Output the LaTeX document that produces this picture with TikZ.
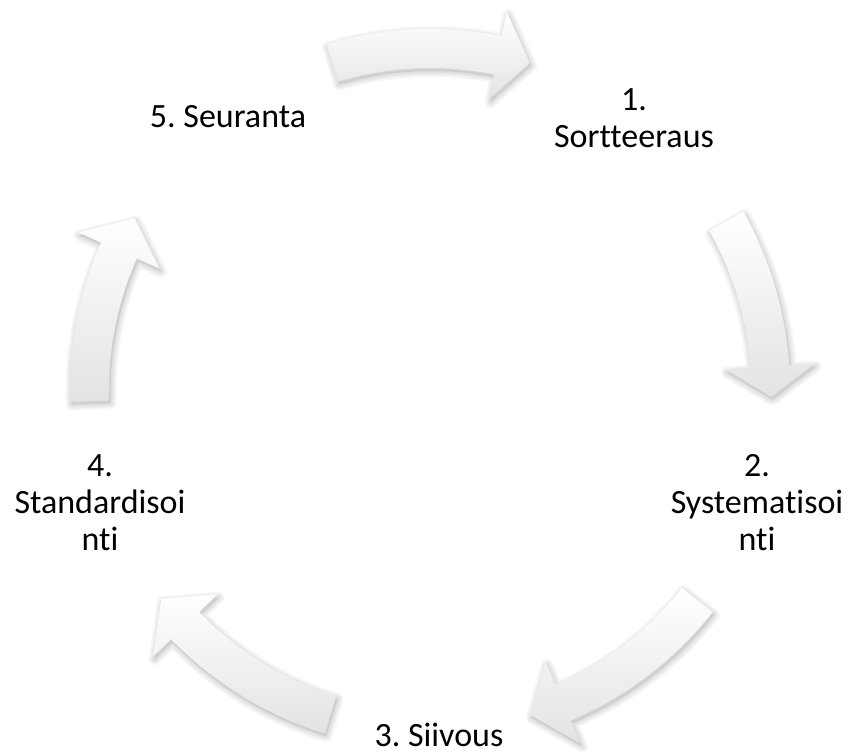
\documentclass[tikz,border=0pt]{standalone}
\usepackage{fontspec}
\setmainfont{Carlito}[Ligatures={NoCommon,NoRequired,NoContextual}]
\newcommand\cycarrowpath[3]{(#1:360pt) arc[start angle=#1,end angle=#2,radius=360pt] -- (#2:385pt) -- (#3:341pt) -- (#2:296pt) -- (#2:321pt) arc[start angle=#2,end angle=#1,radius=321pt] -- cycle}
\begin{document}
\frenchspacing
\begin{tikzpicture}[x=1pt,y=1pt,
  lbl/.style={font=\fontsize{34}{37}\selectfont, text=black, inner sep=0pt, align=center},
  cyc/.style={top color=white, bottom color=black!11, draw=none},
  shadowring/.style={draw=black, opacity=0.03, line join=round, fill=none},
]
\fill[white] (0,0) rectangle (853,755);
\useasboundingbox (0,0) rectangle (853,755);
\begin{scope}[shift={(430,366)}]
  \foreach \a/\b/\c in {106.7/78.5/73, 29.5/3.8/-1.3, -38.3/-67/-72.9, 253/224/218, 182/156/150}{
    \begin{scope}[shift={(1.5pt,-3pt)}]
      \foreach \w in {12,9,6,3}{
        \path[shadowring, line width=\w pt] \cycarrowpath{\a}{\b}{\c};
      }
      \fill[black, opacity=0.08] \cycarrowpath{\a}{\b}{\c};
    \end{scope}
    \path[cyc] \cycarrowpath{\a}{\b}{\c};
  }
\end{scope}
\node[lbl] (n1) at (634, 637) {1.\\Sortteeraus};
\node[lbl] (n2) at (757, 252) {2.\\Systematisoi\\nti};
\node[lbl] (n3) at (439, 20) {3. Siivous};
\node[lbl] (n4) at (100, 252) {4.\\Standardisoi\\nti};
\node[lbl] (n5) at (228, 638) {5. Seuranta};
\end{tikzpicture}
\end{document}
